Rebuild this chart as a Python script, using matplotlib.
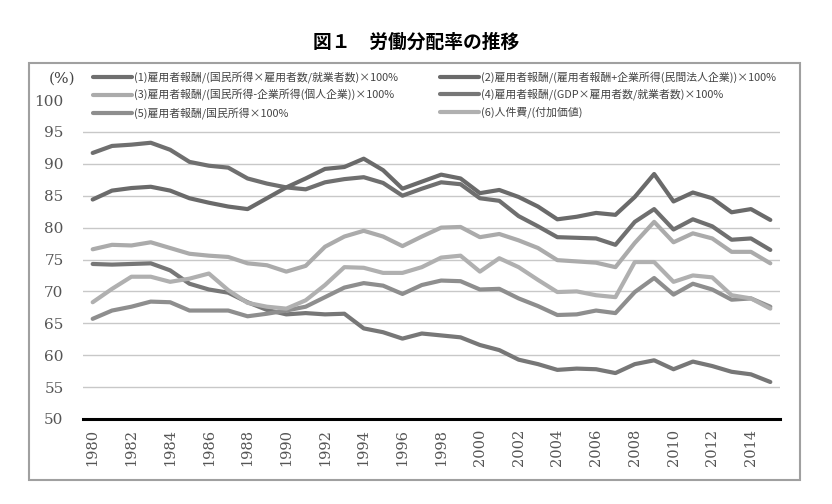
import matplotlib
matplotlib.use("Agg")
import matplotlib.pyplot as plt
from matplotlib.patches import Rectangle

# -------------------------------
# Data
# -------------------------------
years = list(range(1980, 2016))

labels = [
    "(1)雇用者報酬/(国民所得×雇用者数/就業者数)×100%",
    "(2)雇用者報酬/(雇用者報酬+企業所得(民間法人企業))×100%",
    "(3)雇用者報酬/(国民所得-企業所得(個人企業))×100%",
    "(4)雇用者報酬/(GDP×雇用者数/就業者数)×100%",
    "(5)雇用者報酬/国民所得×100%",
    "(6)人件費/(付加価値)",
]

s1 = [91.7, 92.8, 93.0, 93.3, 92.2, 90.3, 89.7, 89.4, 87.7, 86.9, 86.3, 86.0,
      87.1, 87.6, 87.9, 87.0, 85.0, 86.1, 87.1, 86.8, 84.6, 84.2, 81.8, 80.2,
      78.5, 78.4, 78.3, 77.3, 80.9, 82.9, 79.7, 81.3, 80.2, 78.1, 78.3, 76.5]
s2 = [84.4, 85.8, 86.2, 86.4, 85.8, 84.6, 83.9, 83.3, 82.9, 84.6, 86.3, 87.7,
      89.2, 89.5, 90.8, 89.0, 86.1, 87.2, 88.3, 87.7, 85.4, 85.9, 84.8, 83.3,
      81.3, 81.7, 82.3, 82.0, 84.8, 88.4, 84.1, 85.5, 84.6, 82.4, 82.9, 81.2]
s3 = [76.6, 77.3, 77.2, 77.7, 76.8, 75.9, 75.6, 75.4, 74.4, 74.1, 73.1, 74.0,
      77.0, 78.6, 79.5, 78.6, 77.1, 78.6, 80.0, 80.1, 78.5, 79.0, 78.0, 76.8,
      74.9, 74.7, 74.5, 73.8, 77.6, 80.9, 77.7, 79.1, 78.3, 76.2, 76.2, 74.4]
s4 = [74.3, 74.2, 74.3, 74.4, 73.3, 71.2, 70.3, 69.8, 68.3, 67.1, 66.4, 66.6,
      66.4, 66.5, 64.2, 63.6, 62.6, 63.4, 63.1, 62.8, 61.6, 60.8, 59.3, 58.6,
      57.7, 57.9, 57.8, 57.2, 58.6, 59.2, 57.8, 59.0, 58.3, 57.4, 57.0, 55.8]
s5 = [65.7, 67.0, 67.6, 68.4, 68.3, 67.0, 67.0, 67.0, 66.1, 66.5, 67.0, 67.6,
      69.1, 70.6, 71.3, 70.9, 69.6, 71.0, 71.7, 71.6, 70.3, 70.4, 68.9, 67.7,
      66.3, 66.4, 67.0, 66.6, 69.9, 72.1, 69.5, 71.2, 70.3, 68.7, 68.9, 67.6]
s6 = [68.3, 70.4, 72.3, 72.3, 71.5, 72.0, 72.8, 70.2, 68.2, 67.6, 67.3, 68.6,
      71.0, 73.8, 73.7, 72.9, 72.9, 73.8, 75.3, 75.6, 73.1, 75.2, 73.8, 71.8,
      69.9, 70.0, 69.4, 69.1, 74.6, 74.6, 71.5, 72.5, 72.2, 69.4, 68.9, 67.3]

series = [s1, s2, s3, s4, s5, s6]
colors = ["#6f6f6f", "#6a6a6a", "#ababab", "#777777", "#8e8e8e", "#b0b0b0"]

year_ticks = list(range(1980, 2015, 2))
y_ticks = [50, 55, 60, 65, 70, 75, 80, 85, 90, 95, 100]

jp_font = ["Noto Sans CJK JP", "DejaVu Sans"]
num_font = "DejaVu Serif"

# -------------------------------
# Figure
# -------------------------------
fig = plt.figure(figsize=(8.32, 5.04), dpi=100)
ax = fig.add_axes([83 / 832, 1 - 419 / 504, (780 - 83) / 832, (419 - 100) / 504])

lines = []
for vals, col, lab in zip(series, colors, labels):
    ln, = ax.plot(years, vals, color=col, lw=3.0, label=lab,
                  solid_capstyle="round", solid_joinstyle="round")
    lines.append(ln)

ax.set_xlim(1979.5, 2015.5)
ax.set_ylim(50, 100)
ax.set_xticks(year_ticks)
ax.set_xticklabels([str(y) for y in year_ticks], rotation=90,
                   family=num_font, fontsize=10.5, color="#555555")
ax.set_yticks(y_ticks)
ax.set_yticklabels([str(y) for y in y_ticks], family=num_font,
                   fontsize=11, color="#555555")
ax.tick_params(axis="both", length=0)
ax.tick_params(axis="x", pad=7)
ax.tick_params(axis="y", pad=14)

ax.yaxis.grid(True, color="#c8c8c8", lw=1.0)
ax.set_axisbelow(True)
ax.get_ygridlines()[-1].set_visible(False)

for side in ["left", "right", "top"]:
    ax.spines[side].set_visible(False)
ax.spines["bottom"].set_color("black")
ax.spines["bottom"].set_linewidth(2.2)

# (%) label
fig.text(62 / 832, 1 - 79 / 504, "(%)", family=num_font, fontsize=11,
         color="#444444", ha="center", va="center")

# -------------------------------
# Legends (two columns)
# -------------------------------
leg_kw = dict(loc="upper left", bbox_transform=fig.transFigure, frameon=False,
              prop={"family": jp_font, "size": 7.8}, handlelength=3.6,
              handletextpad=0.15, borderpad=0, borderaxespad=0,
              labelspacing=0.55, labelcolor="#444444")
leg1 = ax.legend(handles=[lines[0], lines[2], lines[4]],
                 bbox_to_anchor=(93 / 832, 1 - 71 / 504), **leg_kw)
ax.add_artist(leg1)
ax.legend(handles=[lines[1], lines[3], lines[5]],
          bbox_to_anchor=(440 / 832, 1 - 71 / 504), **leg_kw)

# -------------------------------
# Title and outer frame
# -------------------------------
fig.text(0.5, 1 - 42 / 504, "図１　労働分配率の推移", family=jp_font,
         fontsize=13.5, fontweight="bold", ha="center", va="center")

frame = Rectangle((29 / 832, 1 - 480 / 504), 771 / 832, (480 - 63) / 504,
                  transform=fig.transFigure, fill=False,
                  edgecolor="#a0a0a0", lw=1.5)
fig.patches.append(frame)

fig.savefig("out.png", dpi=100)
